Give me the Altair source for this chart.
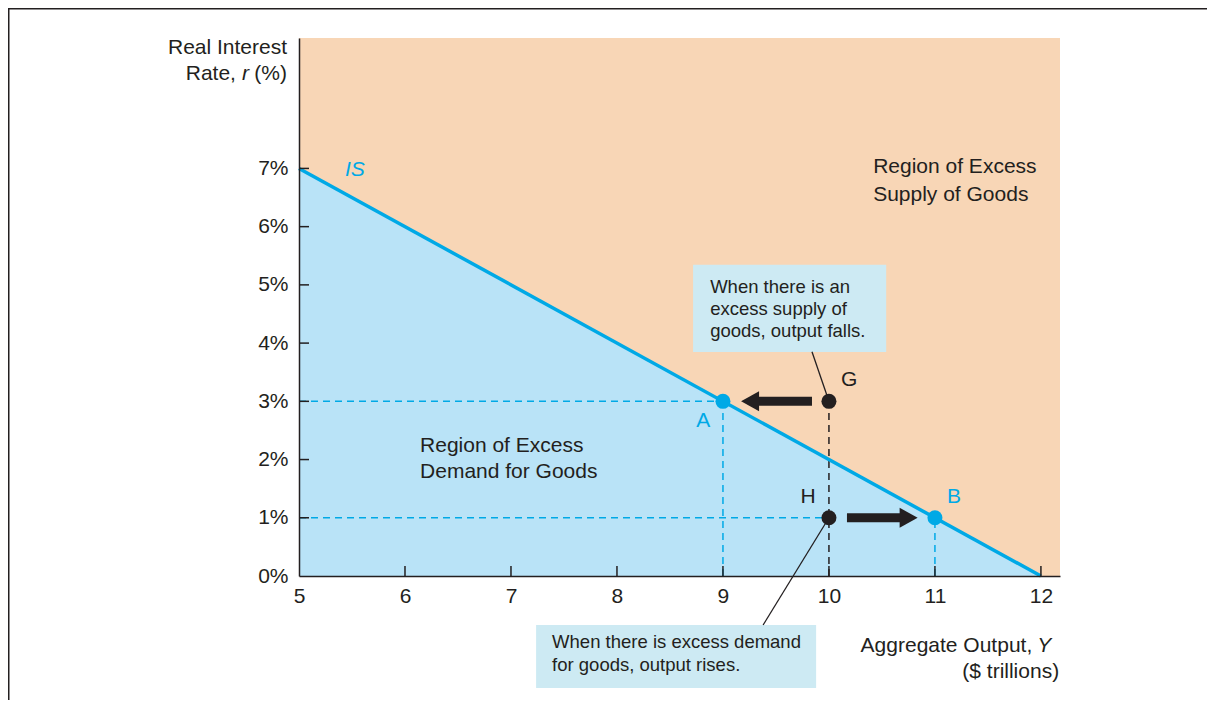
import altair as alt
import pandas as pd

# ---------------- data ----------------
is_output = [5, 12]
is_rate = [7, 0]

point_names = ["A", "B", "G", "H"]
point_output = [9, 11, 10, 10]
point_rate = [3, 1, 3, 1]
point_color = ["#00A9E6", "#00A9E6", "#231F20", "#231F20"]

x_tick_values = [5, 6, 7, 8, 9, 10, 11, 12]
y_tick_values = [0, 1, 2, 3, 4, 5, 6, 7]
x_inner_ticks = [6, 7, 8, 9, 10, 11, 12]
y_inner_ticks = [1, 2, 3, 4, 5, 6, 7]

# dashed guide segments
guide_x1 = [5, 9, 5, 11, 10]
guide_x2 = [9, 9, 10, 11, 10]
guide_y1 = [3, 0, 1, 0, 0]
guide_y2 = [3, 3, 1, 1, 3]
guide_color = ["#00A9E6", "#00A9E6", "#00A9E6", "#00A9E6", "#231F20"]

# arrows: G -> A (left) and H -> B (right)
arrow_from = [9.84, 10.17]
arrow_to = [9.32, 10.69]
arrow_rate = [3, 1]
arrow_head = [9.256, 10.752]
arrow_shape = ["M0.9,-1L-0.9,0L0.9,1Z", "M-0.9,-1L0.9,0L-0.9,1Z"]

# region labels
region_text = ["Region of Excess", "Supply of Goods", "Region of Excess", "Demand for Goods"]
region_x = [10.417, 10.417, 6.142, 6.142]
region_y = [7.02, 6.55, 2.23, 1.79]

# annotation boxes
box_x1 = [8.718, 7.237]
box_x2 = [10.54, 9.879]
box_y1 = [5.344, -0.842]
box_y2 = [3.849, -1.924]

box_text = ["When there is an", "excess supply of", "goods, output falls.",
            "When there is excess demand", "for goods, output rises."]
box_text_x = [8.879, 8.879, 8.879, 7.388, 7.388]
box_text_y = [4.966, 4.588, 4.210, -1.134, -1.529]

# connectors from points to boxes
conn_x1 = [10, 10]
conn_y1 = [3, 1]
conn_x2 = [9.84, 9.379]
conn_y2 = [3.85, -0.842]

# point labels
plabel_text = ["A", "G", "H", "B"]
plabel_x = [8.813, 10.191, 9.804, 11.181]
plabel_y = [2.663, 3.368, 1.363, 1.363]
plabel_color = ["#00A9E6", "#231F20", "#231F20", "#00A9E6"]

# axis titles
ytitle_text = ["Real Interest", "Rate,", "(%)"]
ytitle_x = [4.887, 4.405, 4.887]
ytitle_y = [9.072, 8.617, 8.617]
ytitle_italic_text = ["r"]
ytitle_italic_x = [4.528]
ytitle_italic_y = [8.617]

xtitle_text = ["Aggregate Output,", "($ trillions)"]
xtitle_x = [11.918, 12.172]
xtitle_y = [-1.203, -1.649]
xtitle_italic_text = ["Y"]
xtitle_italic_x = [12.097]
xtitle_italic_y = [-1.203]

is_label = ["IS"]
is_label_x = [5.434]
is_label_y = [6.967]

# ---------------- style ----------------
FONT = "Liberation Sans"
DARK = "#231F20"
ORANGE = "#F8D6B6"
LIGHTBLUE = "#B9E3F7"
ISBLUE = "#00A9E6"
BOXBLUE = "#CDEAF3"
FS = 21

W, H = 761, 538
PAD = {"left": 291, "top": 30, "right": 147, "bottom": 124}

XS = alt.Scale(domain=[5, 12.18], nice=False, zero=False)
YS = alt.Scale(domain=[0, 9.24], nice=False, zero=False)

XAX = alt.Axis(values=x_tick_values, title=None, grid=False, ticks=False,
               labelFontSize=FS, labelFont=FONT, labelColor=DARK, labelPadding=9,
               labelFlush=False, labelOverlap=False, domainColor=DARK, domainWidth=1.5,
               zindex=1, format="d")
YAX = alt.Axis(values=y_tick_values, title=None, grid=False, ticks=False,
               labelFontSize=FS, labelFont=FONT, labelColor=DARK, labelPadding=11,
               labelFlush=False, labelOverlap=False, labelExpr="datum.value + '%'",
               domainColor=DARK, domainWidth=1.5, zindex=1)


def X(f):
    return alt.X(f"{f}:Q", scale=XS, axis=XAX)


def Y(f):
    return alt.Y(f"{f}:Q", scale=YS, axis=YAX)


# ---------------- layers ----------------
is_df = pd.DataFrame({"x": is_output, "y": is_rate})
area = alt.Chart(is_df).mark_area(color=LIGHTBLUE, opacity=1).encode(x=X("x"), y=Y("y"))
is_line = alt.Chart(is_df).mark_line(color=ISBLUE, strokeWidth=3.5).encode(x=X("x"), y=Y("y"))

guide_df = pd.DataFrame({"x": guide_x1, "x2": guide_x2, "y": guide_y1, "y2": guide_y2, "c": guide_color})
guides = alt.Chart(guide_df).mark_rule(strokeWidth=1.5, strokeDash=[7, 5]).encode(
    x=X("x"), x2="x2:Q", y=Y("y"), y2="y2:Q", color=alt.Color("c:N", scale=None))

box_df = pd.DataFrame({"x": box_x1, "x2": box_x2, "y": box_y1, "y2": box_y2})
boxes = alt.Chart(box_df).mark_rect(color=BOXBLUE, opacity=1).encode(
    x=X("x"), x2="x2:Q", y=Y("y"), y2="y2:Q")

conn_df = pd.DataFrame({"x": conn_x1, "x2": conn_x2, "y": conn_y1, "y2": conn_y2})
conns = alt.Chart(conn_df).mark_rule(color=DARK, strokeWidth=1.3).encode(
    x=X("x"), x2="x2:Q", y=Y("y"), y2="y2:Q")

shaft_df = pd.DataFrame({"x": arrow_from, "x2": arrow_to, "y": arrow_rate})
shafts = alt.Chart(shaft_df).mark_rule(color=DARK, strokeWidth=9, strokeCap="butt").encode(
    x=X("x"), x2="x2:Q", y=Y("y"))

head_df = pd.DataFrame({"x": arrow_head, "y": arrow_rate, "s": arrow_shape})
heads = alt.Chart(head_df).mark_point(filled=True, opacity=1, color=DARK, strokeWidth=0, size=400).encode(
    x=X("x"), y=Y("y"), shape=alt.Shape("s:N", scale=None))

pt_df = pd.DataFrame({"x": point_output, "y": point_rate, "c": point_color, "n": point_names})
points = alt.Chart(pt_df).mark_circle(size=225, opacity=1).encode(
    x=X("x"), y=Y("y"), color=alt.Color("c:N", scale=None))


def texts(t, xs, ys, size, align, color=DARK, style="normal"):
    df = pd.DataFrame({"t": t, "x": xs, "y": ys})
    return alt.Chart(df).mark_text(font=FONT, fontSize=size, align=align, baseline="middle",
                                   fontStyle=style, color=color).encode(
        x=X("x"), y=Y("y"), text="t:N")


region_labels = texts(region_text, region_x, region_y, FS, "left")
box_labels = texts(box_text, box_text_x, box_text_y, 18.5, "left")
plabel_df = pd.DataFrame({"t": plabel_text, "x": plabel_x, "y": plabel_y, "c": plabel_color})
point_labels = alt.Chart(plabel_df).mark_text(font=FONT, fontSize=FS, align="center", baseline="middle").encode(
    x=X("x"), y=Y("y"), text="t:N", color=alt.Color("c:N", scale=None))
ytitle = texts(ytitle_text, ytitle_x, ytitle_y, FS, "right")
ytitle_i = texts(ytitle_italic_text, ytitle_italic_x, ytitle_italic_y, FS, "right", style="italic")
xtitle = texts(xtitle_text, xtitle_x, xtitle_y, FS, "right")
xtitle_i = texts(xtitle_italic_text, xtitle_italic_x, xtitle_italic_y, FS, "right", style="italic")
is_text = texts(is_label, is_label_x, is_label_y, FS, "left", color=ISBLUE, style="italic")

# inward ticks
xt = alt.Chart(pd.DataFrame({"v": x_inner_ticks})).mark_rule(color=DARK, strokeWidth=1.5).encode(
    x=X("v"), y=alt.value(H - 10), y2=alt.value(H))
yt = alt.Chart(pd.DataFrame({"v": y_inner_ticks})).mark_rule(color=DARK, strokeWidth=1.5).encode(
    y=Y("v"), x=alt.value(0), x2=alt.value(10))

# frame lines (top and left edge of the figure box)
frame_top = alt.Chart(pd.DataFrame({"k": [0]})).mark_rule(color=DARK, strokeWidth=3).encode(
    x=alt.value(-PAD["left"]), x2=alt.value(W + PAD["right"]), y=alt.value(-PAD["top"]))
frame_left = alt.Chart(pd.DataFrame({"k": [0]})).mark_rule(color=DARK, strokeWidth=3).encode(
    x=alt.value(-PAD["left"]), y=alt.value(-PAD["top"]), y2=alt.value(H + PAD["bottom"] + 20))

chart = alt.layer(
    area, guides, is_line, boxes, conns, shafts, heads, points,
    region_labels, box_labels, point_labels, ytitle, ytitle_i, xtitle, xtitle_i, is_text,
    xt, yt, frame_top, frame_left
).properties(
    width=W, height=H, padding=PAD, autosize=alt.AutoSizeParams(type="none"),
    background="white"
).configure_view(
    fill=ORANGE, strokeWidth=0
)

chart.save("out.html", embed_options={"renderer": "svg", "actions": False})
